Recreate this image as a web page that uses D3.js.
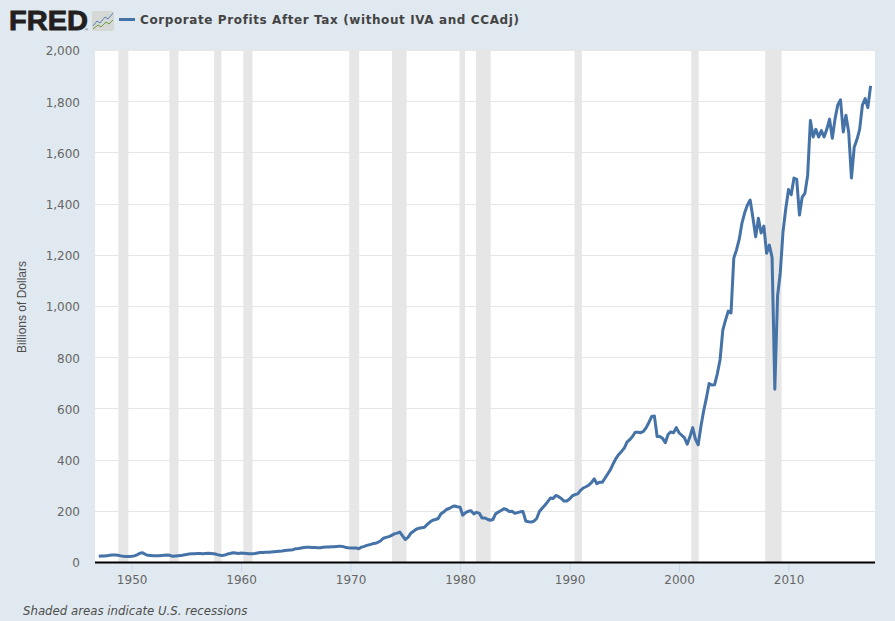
<!DOCTYPE html>
<html>
<head>
<meta charset="utf-8">
<script src="https://cdn.jsdelivr.net/npm/d3@7"></script>
<style>
html,body{margin:0;padding:0;background:#e1e9f0;}
svg{display:block;}
</style>
</head>
<body>
<svg id="chart" width="895" height="621"></svg>
<script>
const titleText = "Corporate Profits After Tax (without IVA and CCAdj)";
const yAxisTitle = "Billions of Dollars";
const footerText = "Shaded areas indicate U.S. recessions";
const firstYear = 1947;
const profits = [
  22,23,23,24, 26,27,27,26, 24,22,21,21, 22,24,28,34,
  36,30,26,25, 24,24,24,25, 26,27,26,22, 23,24,25,27,
  29,31,32,32, 33,33,32,33, 34,33,32,30, 27,25,27,31,
  33,36,35,33, 35,34,33,32, 32,33,35,37, 37,38,38,39,
  40,41,42,43, 45,46,47,48, 52,53,55,57, 58,58,57,57,
  56,56,58,59, 59,60,60,61, 62,61,58,56, 55,55,55,52,
  58,61,65,68, 71,73,77,83, 93,96,99,104, 110,113,117,102,
  88,96,112,120, 128,132,134,136, 147,156,163,166, 170,188,195,205,
  209,215,219,216, 214,183,193,198, 200,188,194,191, 172,172,167,163,
  166,188,195,201, 208,205,197,198, 190,193,196,197, 160,157,156,160,
  170,197,210,222, 235,250,248,260, 255,248,238,238, 246,258,263,266,
  280,289,294,300, 310,325,306,312, 312,328,345,362, 385,405,420,432,
  445,468,478,490, 507,507,505,510, 525,545,568,570, 490,490,483,466,
  498,508,505,525, 505,495,485,460, 490,525,480,458, 530,590,640,697,
  691,692,735,790, 906,945,980,973, 1187,1219,1260,1324, 1365,1395,1414,1345,
  1270,1343,1285,1312, 1206,1238,1190,675, 1040,1130,1290,1380, 1455,1435,1500,1495,
  1355,1425,1440,1510, 1725,1660,1690,1660, 1685,1660,1690,1730, 1655,1730,1785,1805,
  1680,1745,1680,1500, 1620,1650,1690,1785, 1810,1775,1860
];
const recessionStarts = ["1948-11-01","1953-07-01","1957-08-01","1960-04-01","1969-12-01","1973-11-01","1980-01-01","1981-07-01","1990-07-01","2001-03-01","2007-12-01"];
const recessionEnds   = ["1949-10-01","1954-05-01","1958-04-01","1961-02-01","1970-11-01","1975-03-01","1980-07-01","1982-11-01","1991-03-01","2001-11-01","2009-06-01"];
const yTicks = [0,200,400,600,800,1000,1200,1400,1600,1800,2000];
const xTickYears = [1950,1960,1970,1980,1990,2000,2010];

const plot = {left:95, right:875, top:50, bottom:562};
const svg = d3.select("#chart");

const quarterDate = i => new Date(Date.UTC(firstYear + Math.floor(i/4), (i%4)*3, 1));
const x = d3.scaleUtc()
  .domain([new Date(Date.UTC(1946,7,28)), new Date(Date.UTC(2017,10,25))])
  .range([plot.left, plot.right]);
const y = d3.scaleLinear().domain([0,2000]).range([plot.bottom, plot.top]);

svg.append("rect").attr("width",895).attr("height",621).attr("fill","#e1e9f0");
svg.append("rect").attr("x",plot.left).attr("y",plot.top)
  .attr("width",plot.right-plot.left).attr("height",plot.bottom-plot.top).attr("fill","#ffffff");

// gridlines
svg.append("g").selectAll("line").data(yTicks.filter(d=>d>0)).join("line")
  .attr("x1",plot.left).attr("x2",plot.right)
  .attr("y1",d=>Math.round(y(d))+0.5).attr("y2",d=>Math.round(y(d))+0.5)
  .attr("stroke","#e6e6e6").attr("stroke-width",1);

// recessions
svg.append("g").selectAll("rect").data(recessionStarts.map((s,i)=>[s,recessionEnds[i]])).join("rect")
  .attr("x",d=>x(new Date(d[0])) - 0.5)
  .attr("width",d=>x(new Date(d[1]))-x(new Date(d[0])))
  .attr("y",plot.top).attr("height",plot.bottom-plot.top)
  .attr("fill","#e6e6e6");

// y labels
const axisFont = "DejaVu Sans";
const yAxis = d3.axisLeft(y).tickValues(yTicks).tickSize(0).tickPadding(0).tickFormat(d3.format(","));
const gy = svg.append("g").attr("transform",`translate(80,1)`).call(yAxis);
gy.select(".domain").remove();
gy.selectAll("text").attr("font-family",axisFont).attr("font-size",12).attr("fill","#666666");

// x axis
const xAxis = d3.axisBottom(x).tickValues(xTickYears.map(v=>new Date(Date.UTC(v,0,1))))
  .tickSize(10).tickPadding(3).tickFormat(d3.utcFormat("%Y"));
const gx = svg.append("g").attr("transform",`translate(0,${plot.bottom})`).call(xAxis);
gx.select(".domain").remove();
gx.selectAll("line").attr("stroke","#ccd6eb");
gx.selectAll("text").attr("font-family",axisFont).attr("font-size",12).attr("fill","#666666");

// baseline
svg.append("line").attr("x1",plot.left).attr("x2",plot.right)
  .attr("y1",plot.bottom+0.5).attr("y2",plot.bottom+0.5)
  .attr("stroke","#000000").attr("stroke-width",2);

// series
const line = d3.line().x((d,i)=>x(quarterDate(i))).y(d=>y(d));
svg.append("path").datum(profits).attr("d",line)
  .attr("fill","none").attr("stroke","#4572a7").attr("stroke-width",3)
  .attr("stroke-linejoin","round").attr("stroke-linecap","butt");

// y title
svg.append("text").attr("transform","translate(26,307) rotate(-90)")
  .attr("text-anchor","middle").attr("font-family","Liberation Sans").attr("font-size",12)
  .attr("fill","#4d4d4d").text(yAxisTitle);

// footer
svg.append("text").attr("x",23).attr("y",615)
  .attr("font-family","DejaVu Sans").attr("font-style","italic").attr("font-size",11.75)
  .attr("fill","#4d4d4d").text(footerText);

// legend and title
svg.append("line").attr("x1",119).attr("x2",135).attr("y1",19.5).attr("y2",19.5)
  .attr("stroke","#4572a7").attr("stroke-width",3);
svg.append("text").attr("x",140).attr("y",24)
  .attr("font-family","DejaVu Sans").attr("font-weight","bold").attr("font-size",12)
  .attr("letter-spacing",0.6).attr("fill","#444444").text(titleText);

// FRED logo
svg.append("text").attr("x",9).attr("y",30)
  .attr("font-family","Liberation Sans").attr("font-weight","bold").attr("font-size",28)
  .attr("textLength",79).attr("lengthAdjust","spacingAndGlyphs")
  .attr("fill","#231f20").attr("stroke","#231f20").attr("stroke-width",0.9).text("FRED");
svg.append("text").attr("x",85).attr("y",31).attr("font-family","Liberation Sans").attr("font-size",4)
  .attr("fill","#231f20").text("®");
const icon = svg.append("g").attr("transform","translate(92,11)");
icon.append("rect").attr("width",22).attr("height",20).attr("rx",2).attr("fill","#d5d8d5");
const iconBlue = [[1,15],[5,10],[8,12],[13,6],[16,8],[21,2]];
const iconGreen = [[1,18],[6,14],[9,16],[14,11],[17,13],[21,9]];
icon.append("path").attr("d",d3.line()(iconBlue)).attr("fill","none").attr("stroke","#5b83b5").attr("stroke-width",1);
icon.append("path").attr("d",d3.line()(iconGreen)).attr("fill","none").attr("stroke","#6f9a3f").attr("stroke-width",1);
</script>
</body>
</html>
